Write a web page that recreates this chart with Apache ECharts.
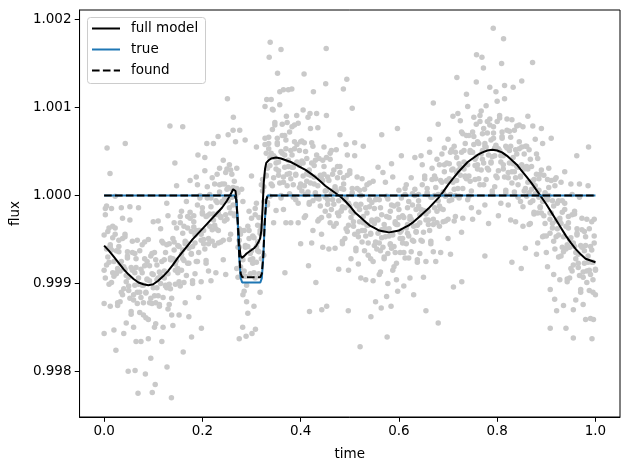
<!DOCTYPE html>
<html>
<head>
<meta charset="utf-8">
<script src="https://cdn.jsdelivr.net/npm/echarts@6/dist/echarts.min.js"></script>
<style>
html,body{margin:0;padding:0;background:#fff;}
#chart{width:630px;height:470px;}
</style>
</head>
<body>
<div id="chart"></div>
<script>
// Observations: [time, flux sample A, flux sample B, flux sample C]
const obsRows = [
[0,0.99955,0.99877,0.99915],[0.0025,0.99906,0.99985,0.99978],[0.005,0.99988,0.99939,0.99921],[0.0075,0.99930,0.99959,0.99940],[0.01,0.99963,0.99899,0.99924],[0.0125,0.99874,0.99941,0.99944],[0.015,0.99938,0.99985,0.99901],[0.0175,0.99965,0.99912,0.99952],
[0.02,0.99908,0.99847,0.99925],[0.0225,0.99999,0.99963,0.99956],[0.025,0.99912,0.99937,0.99911],[0.0275,0.99878,0.99875,0.99917],[0.03,0.99942,0.99949,0.99936],[0.0325,0.99923,0.99914,0.99879],[0.035,0.99890,0.99986,0.99925],[0.0375,0.99974,0.99887,0.99951],
[0.04,0.99843,0.99919,0.99894],[0.0425,0.99953,0.99956,0.99916],[0.045,0.99909,0.99855,0.99902],[0.0475,0.99936,0.99929,0.99931],[0.05,0.99892,0.99897,0.99907],[0.0525,0.99972,0.99987,0.99883],[0.055,0.99868,0.99865,0.99918],[0.0575,0.99915,0.99935,0.99948],
[0.06,0.99850,0.99881,0.99887],[0.0625,0.99934,0.99912,0.99898],[0.065,0.99918,0.99834,0.99928],[0.0675,0.99877,0.99949,0.99890],[0.07,0.99986,0.99899,0.99906],[0.0725,0.99890,0.99937,0.99867],[0.075,0.99834,0.99884,0.99916],[0.0775,0.99944,0.99912,0.99898],
[0.08,0.99898,0.99864,0.99878],[0.0825,0.99920,0.99947,0.99928],[0.085,0.99861,0.99890,0.99889],[0.0875,0.99904,0.99925,0.99905],[0.09,0.99950,0.99837,0.99859],[0.0925,0.99878,0.99903,0.99920],[0.095,0.99815,0.99931,0.99883],[0.0975,0.99934,0.99877,0.99911],
[0.1,0.99910,0.99970,0.99895],[0.1025,0.99850,0.99886,0.99935],[0.105,0.99927,0.99854,0.99878],[0.1075,0.99895,0.99921,0.99904],[0.11,0.99971,0.99906,0.99886],[0.1125,0.99874,0.99876,0.99913],[0.115,0.99909,0.99962,0.99900],[0.1175,0.99948,0.99834,0.99925],
[0.12,0.99850,0.99946,0.99884],[0.1225,0.99927,0.99906,0.99914],[0.125,0.99898,0.99935,0.99897],[0.1275,0.99991,0.99895,0.99944],[0.13,0.99871,0.99977,0.99911],[0.1325,0.99945,0.99876,0.99899],[0.135,0.99894,0.99927,0.99929],[0.1375,0.99927,0.99864,0.99883],
[0.14,0.99852,0.99951,0.99928],[0.1425,0.99969,0.99938,0.99947],[0.145,0.99922,0.99899,0.99915],[0.1475,0.99963,1.00011,0.99926],[0.15,0.99912,0.99917,0.99943],[0.1525,0.99942,0.99864,0.99902],[0.155,0.99897,0.99976,0.99969],[0.1575,0.99982,0.99933,0.99915],
[0.16,0.99928,0.99957,0.99938],[0.1625,0.99965,0.99901,0.99926],[0.165,0.99878,0.99945,0.99948],[0.1675,0.99946,0.99993,0.99909],[0.17,0.99976,0.99923,0.99963],[0.1725,0.99923,0.99862,0.99940],[0.175,1.00017,0.99981,0.99974],[0.1775,0.99934,0.99959,0.99933],
[0.18,0.99903,0.99900,0.99942],[0.1825,0.99970,0.99977,0.99964],[0.185,0.99955,0.99946,0.99911],[0.1875,0.99925,1.00021,0.99960],[0.19,1.00012,0.99925,0.99989],[0.1925,0.99884,0.99960,0.99935],[0.195,0.99997,1.00000,0.99960],[0.1975,0.99956,0.99902,0.99949],
[0.2,0.99986,0.99979,0.99981],[0.2025,0.99945,0.99950,0.99960],[0.205,1.00028,1.00043,0.99939],[0.2075,0.99926,0.99923,0.99976],[0.21,0.99977,0.99997,1.00010],[0.2125,0.99914,0.99945,0.99951],[0.215,1.00001,0.99979,0.99965],[0.2175,0.99987,0.99903,0.99997],
[0.22,0.99948,1.00020,0.99961],[0.2225,1.00059,0.99972,0.99979],[0.225,0.99966,1.00013,0.99943],[0.2275,0.99912,0.99962,0.99994],[0.23,1.00024,0.99992,0.99978],[0.2325,0.99980,0.99946,0.99960],[0.235,1.00004,1.00031,1.00012],[0.2375,0.99947,0.99976,0.99975],
[0.24,0.99992,1.00013,0.99993],[0.2425,1.00040,0.99927,0.99949],[0.245,0.99971,0.99996,1.00013],[0.2475,0.99910,1.00026,0.99978],[0.25,1.00030,0.99973,1.00007],[0.2525,1.00009,1.00069,0.99994],[0.255,0.99950,0.99986,1.00035],[0.2575,1.00029,0.99956,0.99980],
[0.26,0.99998,1.00024,1.00007],[0.2625,1.00074,1.00009,0.99989],[0.265,0.99977,0.99979,1.00016],[0.2675,1.00008,1.00061,0.99999],[0.27,1.00031,0.99917,1.00008],[0.2725,0.99907,1.00003,0.99941],[0.275,0.99962,0.99941,0.99949],[0.2775,0.99919,0.99956,0.99918],
[0.28,1.00007,0.99911,0.99960],[0.2825,0.99887,0.99993,0.99927],[0.285,0.99960,0.99891,0.99914],[0.2875,0.99908,0.99941,0.99943],[0.29,0.99942,0.99879,0.99898],[0.2925,0.99866,0.99965,0.99942],[0.295,0.99982,0.99951,0.99960],[0.2975,0.99934,0.99911,0.99927],
[0.3,0.99974,1.00022,0.99937],[0.3025,0.99923,0.99928,0.99954],[0.305,0.99952,0.99874,0.99912],[0.3075,0.99906,0.99985,0.99978],[0.31,0.99991,0.99942,0.99924],[0.3125,0.99937,0.99966,0.99947],[0.315,0.99975,0.99911,0.99936],[0.3175,0.99890,0.99957,0.99960],
[0.32,0.99965,1.00012,0.99928],[0.3225,1.00018,0.99965,1.00005],[0.325,0.99993,0.99932,1.00010],[0.3275,1.00101,1.00065,1.00058],[0.33,1.00023,1.00048,1.00022],[0.3325,0.99992,0.99989,1.00031],[0.335,1.00059,1.00066,1.00053],[0.3375,1.00043,1.00034,0.99999],
[0.34,1.00013,1.00109,1.00048],[0.3425,1.00098,1.00011,1.00075],[0.345,0.99969,1.00045,1.00020],[0.3475,1.00080,1.00083,1.00043],[0.35,1.00037,0.99983,1.00030],[0.3525,1.00065,1.00058,1.00060],[0.355,1.00023,1.00028,1.00038],[0.3575,1.00103,1.00118,1.00014],
[0.36,1.00000,0.99997,1.00050],[0.3625,1.00048,1.00068,1.00081],[0.365,0.99984,1.00015,1.00021],[0.3675,1.00068,1.00046,1.00032],[0.37,1.00053,0.99969,1.00063],[0.3725,1.00011,1.00083,1.00024],[0.375,1.00120,1.00033,1.00040],[0.3775,1.00025,1.00072,1.00002],
[0.38,0.99969,1.00019,1.00051],[0.3825,1.00078,1.00046,1.00032],[0.385,1.00032,0.99998,1.00012],[0.3875,1.00053,1.00080,1.00061],[0.39,0.99995,1.00024,1.00023],[0.3925,1.00037,1.00058,1.00038],[0.395,1.00082,0.99969,0.99991],[0.3975,1.00009,1.00034,1.00051],
[0.4,0.99945,1.00061,1.00013],[0.4025,1.00062,1.00005,1.00039],[0.405,1.00037,1.00097,1.00022],[0.4075,0.99975,1.00011,1.00060],[0.41,1.00050,0.99977,1.00001],[0.4125,1.00016,1.00042,1.00025],[0.415,1.00089,1.00024,1.00004],[0.4175,0.99990,0.99992,1.00029],
[0.42,1.00023,1.00076,1.00014],[0.4225,1.00060,0.99946,1.00037],[0.425,0.99960,1.00056,0.99994],[0.4275,1.00034,1.00013,1.00021],[0.43,1.00003,1.00040,1.00002],[0.4325,1.00093,0.99997,1.00046],[0.435,0.99971,1.00077,1.00011],[0.4375,1.00042,0.99973,0.99996],
[0.44,0.99988,1.00021,1.00023],[0.4425,1.00019,0.99956,0.99975],[0.445,0.99941,1.00040,1.00017],[0.4475,1.00055,1.00024,1.00033],[0.45,1.00005,0.99982,0.99998],[0.4525,1.00043,1.00091,1.00006],[0.455,0.99990,0.99995,1.00021],[0.4575,1.00017,0.99939,0.99977],
[0.46,0.99969,1.00048,1.00041],[0.4625,1.00051,1.00002,0.99984],[0.465,0.99995,1.00024,1.00005],[0.4675,1.00029,0.99965,0.99990],[0.47,0.99940,1.00007,1.00010],[0.4725,1.00005,1.00052,0.99968],[0.475,1.00033,0.99980,1.00020],[0.4775,0.99977,0.99916,0.99994],
[0.48,1.00069,1.00033,1.00026],[0.4825,0.99983,1.00008,0.99982],[0.485,0.99948,0.99945,0.99987],[0.4875,1.00013,1.00020,1.00007],[0.49,0.99995,0.99986,0.99951],[0.4925,0.99962,1.00058,0.99997],[0.495,1.00046,0.99959,1.00023],[0.4975,0.99915,0.99991,0.99966],
[0.5,1.00025,1.00028,0.99988],[0.5025,0.99982,0.99928,0.99975],[0.505,1.00008,1.00001,1.00003],[0.5075,0.99965,0.99970,0.99980],[0.51,1.00045,1.00060,0.99956],[0.5125,0.99940,0.99937,0.99990],[0.515,0.99988,1.00008,1.00021],[0.5175,0.99922,0.99953,0.99959],
[0.52,1.00006,0.99984,0.99970],[0.5225,0.99990,0.99906,1.00000],[0.525,0.99947,1.00019,0.99960],[0.5275,1.00056,0.99969,0.99976],[0.53,0.99960,1.00007,0.99937],[0.5325,0.99904,0.99954,0.99986],[0.535,1.00012,0.99980,0.99966],[0.5375,0.99966,0.99932,0.99946],
[0.54,0.99987,1.00014,0.99995],[0.5425,0.99928,0.99957,0.99956],[0.545,0.99971,0.99992,0.99972],[0.5475,1.00016,0.99903,0.99925],[0.55,0.99943,0.99968,0.99985],[0.5525,0.99879,0.99995,0.99947],[0.555,0.99996,0.99939,0.99973],[0.5575,0.99972,1.00032,0.99957],
[0.56,0.99910,0.99946,0.99995],[0.5625,0.99986,0.99913,0.99937],[0.565,0.99952,0.99978,0.99961],[0.5675,1.00026,0.99961,0.99941],[0.57,0.99928,0.99930,0.99967],[0.5725,0.99962,1.00015,0.99953],[0.575,0.99999,0.99885,0.99976],[0.5775,0.99900,0.99996,0.99934],
[0.58,0.99975,0.99954,0.99962],[0.5825,0.99945,0.99982,0.99944],[0.585,1.00036,0.99940,0.99989],[0.5875,0.99915,1.00021,0.99955],[0.59,0.99988,0.99919,0.99942],[0.5925,0.99935,0.99968,0.99970],[0.595,0.99967,0.99904,0.99923],[0.5975,0.99891,0.99990,0.99967],
[0.6,1.00006,0.99975,0.99984],[0.6025,0.99958,0.99935,0.99951],[0.605,0.99997,1.00045,0.99960],[0.6075,0.99946,0.99951,0.99977],[0.61,0.99975,0.99897,0.99935],[0.6125,0.99929,1.00008,1.00001],[0.615,1.00012,0.99963,0.99945],[0.6175,0.99957,0.99986,0.99967],
[0.62,0.99993,0.99929,0.99954],[0.6225,0.99906,0.99973,0.99976],[0.625,0.99973,1.00020,0.99936],[0.6275,1.00002,0.99949,0.99989],[0.63,0.99948,0.99887,0.99965],[0.6325,1.00043,1.00007,1.00000],[0.635,0.99959,0.99984,0.99958],[0.6375,0.99927,0.99924,0.99966],
[0.64,0.99994,1.00001,0.99988],[0.6425,0.99978,0.99969,0.99934],[0.645,0.99949,1.00045,0.99984],[0.6475,1.00035,0.99948,1.00012],[0.65,0.99907,0.99983,0.99958],[0.6525,1.00019,1.00022,0.99982],[0.655,0.99979,0.99925,0.99972],[0.6575,1.00008,1.00001,1.00003],
[0.66,0.99967,0.99972,0.99982],[0.6625,1.00049,1.00064,0.99960],[0.665,0.99948,0.99945,0.99998],[0.6675,0.99998,1.00018,1.00031],[0.67,0.99936,0.99967,0.99973],[0.6725,1.00022,1.00000,0.99986],[0.675,1.00009,0.99925,1.00019],[0.6775,0.99969,1.00041,0.99982],
[0.68,1.00081,0.99994,1.00001],[0.6825,0.99988,1.00035,0.99965],[0.685,0.99935,0.99985,1.00017],[0.6875,1.00047,1.00015,1.00001],[0.69,1.00004,0.99970,0.99984],[0.6925,1.00027,1.00054,1.00035],[0.695,0.99971,1.00000,0.99999],[0.6975,1.00016,1.00037,1.00017],
[0.7,1.00064,0.99951,0.99973],[0.7025,0.99994,1.00019,1.00036],[0.705,0.99933,1.00049,1.00001],[0.7075,1.00052,0.99995,1.00029],[0.71,1.00030,1.00090,1.00015],[0.7125,0.99971,1.00007,1.00056],[0.715,1.00049,0.99976,1.00000],[0.7175,1.00017,1.00043,1.00026],
[0.72,1.00093,1.00028,1.00008],[0.7225,0.99997,0.99999,1.00036],[0.725,1.00032,1.00085,1.00023],[0.7275,1.00072,0.99958,1.00049],[0.73,0.99974,1.00070,1.00008],[0.7325,1.00051,1.00030,1.00038],[0.735,1.00022,1.00059,1.00021],[0.7375,1.00115,1.00019,1.00068],
[0.74,0.99995,1.00101,1.00035],[0.7425,1.00068,0.99999,1.00022],[0.745,1.00016,1.00049,1.00051],[0.7475,1.00049,0.99986,1.00005],[0.75,0.99973,1.00072,1.00049],[0.7525,1.00089,1.00058,1.00067],[0.755,1.00041,1.00018,1.00034],[0.7575,1.00081,1.00129,1.00044],
[0.76,1.00030,1.00035,1.00061],[0.7625,1.00059,0.99981,1.00019],[0.765,1.00012,1.00091,1.00084],[0.7675,1.00096,1.00047,1.00029],[0.77,1.00041,1.00070,1.00051],[0.7725,1.00076,1.00012,1.00037],[0.775,0.99989,1.00056,1.00059],[0.7775,1.00055,1.00102,1.00018],
[0.78,1.00084,1.00031,1.00071],[0.7825,1.00029,0.99968,1.00046],[0.785,1.00123,1.00087,1.00080],[0.7875,1.00038,1.00063,1.00037],[0.79,1.00005,1.00002,1.00044],[0.7925,1.00071,1.00078,1.00065],[0.795,1.00054,1.00045,1.00010],[0.7975,1.00022,1.00118,1.00057],
[0.8,1.00107,1.00020,1.00084],[0.8025,0.99977,1.00053,1.00028],[0.805,1.00088,1.00091,1.00051],[0.8075,1.00045,0.99991,1.00038],[0.81,1.00072,1.00065,1.00067],[0.8125,1.00030,1.00035,1.00045],[0.815,1.00110,1.00125,1.00021],[0.8175,1.00006,1.00003,1.00056],
[0.82,1.00054,1.00074,1.00087],[0.8225,0.99989,1.00020,1.00026],[0.825,1.00073,1.00051,1.00037],[0.8275,1.00056,0.99972,1.00066],[0.83,1.00014,1.00086,1.00027],[0.8325,1.00123,1.00036,1.00043],[0.835,1.00027,1.00074,1.00004],[0.8375,0.99970,1.00020,1.00052],
[0.84,1.00079,1.00047,1.00033],[0.8425,1.00032,0.99998,1.00012],[0.845,1.00053,1.00080,1.00061],[0.8475,0.99993,1.00022,1.00021],[0.85,1.00034,1.00055,1.00035],[0.8525,1.00078,0.99965,0.99987],[0.855,1.00005,1.00030,1.00047],[0.8575,0.99940,1.00056,1.00008],
[0.86,1.00056,0.99999,1.00033],[0.8625,1.00030,1.00090,1.00015],[0.865,0.99967,1.00003,1.00052],[0.8675,1.00041,0.99968,0.99992],[0.87,1.00007,1.00033,1.00016],[0.8725,1.00079,1.00014,0.99994],[0.875,0.99979,0.99981,1.00018],[0.8775,1.00011,1.00064,1.00002],
[0.88,1.00047,0.99933,1.00024],[0.8825,0.99946,1.00042,0.99980],[0.885,1.00019,0.99998,1.00006],[0.8875,0.99987,1.00024,0.99986],[0.89,1.00076,0.99980,1.00029],[0.8925,0.99953,1.00059,0.99993],[0.895,1.00023,0.99954,0.99977],[0.8975,0.99968,1.00001,1.00003],
[0.9,0.99998,0.99935,0.99954],[0.9025,0.99919,1.00018,0.99995],[0.905,1.00031,1.00000,1.00009],[0.9075,0.99980,0.99957,0.99973],[0.91,1.00017,1.00065,0.99980],[0.9125,0.99963,0.99968,0.99994],[0.915,0.99988,0.99910,0.99948],[0.9175,0.99939,1.00018,1.00011],
[0.92,1.00020,0.99971,0.99953],[0.9225,0.99962,0.99991,0.99972],[0.925,0.99994,0.99930,0.99955],[0.9275,0.99904,0.99971,0.99974],[0.93,0.99968,1.00015,0.99931],[0.9325,0.99994,0.99941,0.99981],[0.935,0.99936,0.99875,0.99953],[0.9375,1.00027,0.99991,0.99984],
[0.94,0.99940,0.99965,0.99939],[0.9425,0.99905,0.99902,0.99944],[0.945,0.99969,0.99976,0.99963],[0.9475,0.99950,0.99941,0.99906],[0.95,0.99917,1.00013,0.99952],[0.9525,1.00001,0.99914,0.99978],[0.955,0.99870,0.99946,0.99921],[0.9575,0.99979,0.99982,0.99942],
[0.96,0.99935,0.99881,0.99928],[0.9625,0.99962,0.99955,0.99957],[0.965,0.99918,0.99923,0.99933],[0.9675,0.99998,1.00013,0.99909],[0.97,0.99893,0.99890,0.99943],[0.9725,0.99941,0.99961,0.99974],[0.975,0.99876,0.99907,0.99913],[0.9775,0.99959,0.99937,0.99923],
[0.98,0.99943,0.99859,0.99953],[0.9825,0.99901,0.99973,0.99914],[0.985,1.00011,0.99924,0.99931],[0.9875,0.99915,0.99962,0.99892],[0.99,0.99860,0.99910,0.99942],[0.9925,0.99970,0.99938,0.99924],[0.995,0.99924,0.99890,0.99904],[0.9975,0.99946,0.99973,0.99954],[1,0.99887,0.99916,0.99915]
];
const obsExtra = [
[0.338,1.00174],[0.360,1.00166],[0.336,1.00157],[0.353,1.00139],[0.407,1.00138],[0.251,1.00110],[0.134,1.00079],[0.160,1.00078],[0.006,1.00054],[0.043,1.00059],[0.263,1.00089],
[0.792,1.00190],[0.813,1.00178],[0.452,1.00167],[0.758,1.00160],[0.769,1.00157],[0.809,1.00150],[0.872,1.00151],[0.772,1.00145],[0.718,1.00134],[0.494,1.00132],[0.451,1.00127],[0.487,1.00121],[0.850,1.00130],[0.670,1.00105],[0.505,1.00099],[0.597,1.00076],[0.565,1.00069],[0.986,1.00055],[0.962,1.00045],
[0.137,0.99770],[0.069,0.99775],[0.098,0.99776],[0.104,0.99785],[0.049,0.99800],[0.063,0.99801],[0.084,0.99797],[0.128,0.99805],[0.161,0.99822],[0.024,0.99824],[0.000,0.99843],[0.178,0.99839],[0.198,0.99849],[0.275,0.99837],[0.289,0.99840],[0.301,0.99843],[0.282,0.99850],[0.308,0.99848],[0.368,0.99912],[0.418,0.99868],[0.431,0.99901],[0.416,0.99920],
[0.521,0.99828],[0.576,0.99839],[0.543,0.99862],[0.680,0.99855],[0.655,0.99869],[0.908,0.99849],[0.940,0.99849],[0.955,0.99838],[0.993,0.99837],[0.996,0.99859],[0.921,0.99869],[0.775,0.99931],[0.830,0.99924],[0.849,0.99917],[0.443,0.99870],[0.453,0.99874],[0.497,0.99869],[0.564,0.99872],[0.584,0.99874],[0.728,0.99902],[0.711,0.99896],[0.908,0.99893],[0.917,0.99882],
[0.365,1.00120],[0.382,1.00121],[0.426,1.00118],[0.331,1.00109],[0.344,1.00097],[0.371,1.00090],[0.392,1.00091],[0.419,1.00093],
[0.232,1.00067],[0.276,1.00074],[0.287,1.00063],[0.310,1.00055],[0.209,1.00059],[0.191,1.00046],[0.144,1.00037],[0.012,1.00025]
];
// Full model curve
const modelTime = [0,0.01,0.02,0.03,0.04,0.05,0.06,0.07,0.08,0.09,0.1,0.11,0.12,0.13,0.14,0.15,0.16,0.17,0.18,0.19,0.2,0.21,0.22,0.23,0.24,0.25,0.26,0.2625,0.265,0.2675,0.27,0.2725,0.275,0.2775,0.28,0.285,0.29,0.295,0.3,0.305,0.31,0.315,0.3175,0.32,0.3225,0.325,0.3275,0.33,0.335,0.34,0.35,0.36,0.37,0.38,0.39,0.4,0.41,0.42,0.43,0.44,0.45,0.46,0.47,0.48,0.49,0.5,0.51,0.52,0.53,0.54,0.55,0.56,0.57,0.58,0.59,0.6,0.61,0.62,0.63,0.64,0.65,0.66,0.67,0.68,0.69,0.7,0.71,0.72,0.73,0.74,0.75,0.76,0.77,0.78,0.79,0.8,0.81,0.82,0.83,0.84,0.85,0.86,0.87,0.88,0.89,0.9,0.91,0.92,0.93,0.94,0.95,0.96,0.97,0.98,0.99,1];
const modelFlux = [0.99943,0.99937,0.99930,0.99923,0.99916,0.99910,0.99905,0.99901,0.99899,0.99898,0.99899,0.99903,0.99908,0.99914,0.99921,0.99929,0.99936,0.99943,0.99950,0.99956,0.99962,0.99968,0.99974,0.99980,0.99986,0.99994,1.00004,1.00007,1.00008,1.00005,0.99990,0.99965,0.99945,0.99932,0.99929,0.99931,0.99934,0.99936,0.99938,0.99940,0.99943,0.99948,0.99951,0.99960,0.99985,1.00015,1.00030,1.00037,1.00040,1.00042,1.00043,1.00042,1.00040,1.00038,1.00035,1.00032,1.00029,1.00025,1.00021,1.00016,1.00011,1.00007,1.00003,0.99999,0.99994,0.99988,0.99981,0.99976,0.99971,0.99966,0.99963,0.99960,0.99959,0.99958,0.99959,0.99960,0.99963,0.99966,0.99970,0.99975,0.99980,0.99985,0.99991,0.99997,1.00004,1.00012,1.00019,1.00026,1.00032,1.00038,1.00042,1.00046,1.00049,1.00051,1.00052,1.00051,1.00049,1.00045,1.00040,1.00035,1.00028,1.00021,1.00014,1.00006,0.99998,0.99990,0.99981,0.99972,0.99963,0.99954,0.99946,0.99939,0.99933,0.99928,0.99926,0.99924];
// True transit model
const trueTime = [0,0.266,0.269,0.272,0.275,0.278,0.281,0.318,0.321,0.324,0.327,0.330,0.333,1];
const trueFlux = [1.0,1.0,0.99995,0.9997,0.9993,0.99906,0.99901,0.99901,0.99906,0.9993,0.9997,0.99995,1.0,1.0];
// Found transit model
const foundTime = [0,0.266,0.269,0.272,0.275,0.278,0.281,0.318,0.321,0.324,0.327,0.330,0.333,1];
const foundFlux = [1.0,1.0,0.99995,0.9997,0.99932,0.99911,0.99907,0.99907,0.99911,0.99932,0.9997,0.99995,1.0,1.0];
// Tick values and legend labels
const xTicks = [0,0.2,0.4,0.6,0.8,1.0];
const yTicks = [0.998,0.999,1.000,1.001,1.002];
const legendNames = ['full model', 'true', 'found'];

const F = 'DejaVu Sans';
const FS = 13.5;
const pairs = (xs, ys) => xs.map((x, i) => [x, ys[i]]);
const scatterData = [];
obsRows.forEach(r => { for (let k = 1; k < r.length; k++) scatterData.push([r[0], r[k]]); });
obsExtra.forEach(p => scatterData.push(p));

const DASH = [7.6, 3.3];
const lineStyles = [
  {stroke: '#000', lineWidth: 2},
  {stroke: '#1f77b4', lineWidth: 2},
  {stroke: '#000', lineWidth: 2, lineDash: DASH}
];
const legendGraphic = [{
  type: 'rect', left: 87, top: 17, z: 100,
  shape: {width: 118, height: 66, r: 3},
  style: {fill: 'rgba(255,255,255,0.8)', stroke: '#cccccc', lineWidth: 1}
}];
legendNames.forEach((name, i) => {
  const y = 28.5 + i * 21;
  legendGraphic.push({type: 'line', z: 101, shape: {x1: 92, y1: y, x2: 120, y2: y}, style: lineStyles[i]});
  legendGraphic.push({type: 'text', z: 101, x: 131, y: y, style: {text: name, fill: '#000', font: FS + 'px "DejaVu Sans"', textVerticalAlign: 'middle', verticalAlign: 'middle'}});
});

const chart = echarts.init(document.getElementById('chart'), null, {renderer: 'canvas'});
const axisCommon = {
  type: 'value',
  splitLine: {show: false},
  axisLine: {show: true, onZero: false, lineStyle: {color: '#000', width: 1}},
  nameLocation: 'middle',
  nameTextStyle: {fontFamily: F, fontSize: FS, color: '#000'}
};
chart.setOption({
  animation: false,
  backgroundColor: '#fff',
  grid: {left: 79, right: 10, top: 10, bottom: 53, show: true, borderColor: '#000', borderWidth: 1, backgroundColor: 'transparent'},
  graphic: legendGraphic,
  xAxis: Object.assign({}, axisCommon, {
    min: -0.05, max: 1.05,
    name: 'time', nameGap: 30,
    axisTick: {show: true, length: 4.8, lineStyle: {color: '#000', width: 1}, customValues: xTicks},
    axisLabel: {customValues: xTicks, formatter: v => v.toFixed(1), color: '#000', fontFamily: F, fontSize: FS, margin: 7}
  }),
  yAxis: Object.assign({}, axisCommon, {
    min: 0.997481, max: 1.002108,
    name: 'flux', nameGap: 56, nameRotate: 90,
    axisTick: {show: true, length: 4.8, lineStyle: {color: '#000', width: 1}, customValues: yTicks},
    axisLabel: {customValues: yTicks, formatter: v => v.toFixed(3), color: '#000', fontFamily: F, fontSize: FS, margin: 8}
  }),
  series: [
    {type: 'scatter', name: 'data', data: scatterData, symbolSize: 5.5, itemStyle: {color: '#c9c9c9', opacity: 1}, z: 1, progressive: 0, large: false, silent: true},
    {type: 'line', name: 'full model', data: pairs(modelTime, modelFlux), showSymbol: false, symbol: 'none', lineStyle: {color: '#000', width: 2}, itemStyle: {color: '#000'}, z: 2},
    {type: 'line', name: 'true', data: pairs(trueTime, trueFlux), showSymbol: false, symbol: 'none', lineStyle: {color: '#1f77b4', width: 2}, itemStyle: {color: '#1f77b4'}, z: 3},
    {type: 'line', name: 'found', data: pairs(foundTime, foundFlux), showSymbol: false, symbol: 'none', lineStyle: {color: '#000', width: 2, type: DASH}, itemStyle: {color: '#000'}, z: 4}
  ]
});
</script>
</body>
</html>
